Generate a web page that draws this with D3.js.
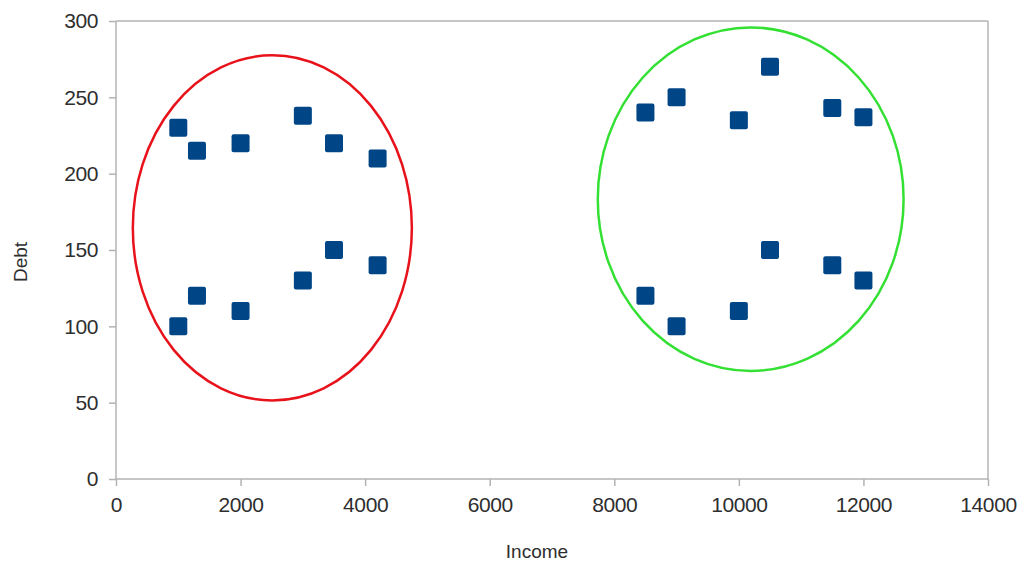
<!DOCTYPE html>
<html>
<head>
<meta charset="utf-8">
<script src="https://cdn.jsdelivr.net/npm/d3@7"></script>
<style>
  html, body { margin: 0; padding: 0; background: #fff; }
  svg { display: block; }
  text { font-family: "Liberation Sans", Arial, sans-serif; }
</style>
</head>
<body>
<svg id="chart" width="1020" height="563"></svg>
<script>
// ---- data ----
const incomeValues = [1000, 1300, 2000, 3000, 3500, 4200, 1000, 1300, 2000, 3000, 3500, 4200,
                      8500, 9000, 10000, 10500, 11500, 12000, 8500, 9000, 10000, 10500, 11500, 12000];
const debtValues   = [230, 215, 220, 238, 220, 210, 100, 120, 110, 130, 150, 140,
                      240, 250, 235, 270, 243, 237, 120, 100, 110, 150, 140, 130];
const xTicks = [0, 2000, 4000, 6000, 8000, 10000, 12000, 14000];
const yTicks = [0, 50, 100, 150, 200, 250, 300];
const clusterCx = [2510, 10190];
const clusterCy = [164.5, 183.3];
const clusterRx = [2240, 2455];
const clusterRy = [113, 112.5];
const clusterColors = ["#e8121b", "#33e033"];

// ---- layout ----
const svg = d3.select("#chart");
const mLeft = 116, mRight = 988, mTop = 21, mBottom = 479;
const x = d3.scaleLinear().domain([0, 14000]).range([mLeft, mRight]);
const y = d3.scaleLinear().domain([0, 300]).range([mBottom, mTop]);

const axisColor = "#b3b3b3";
const textColor = "#2e2e2e";

// frame (top and right)
svg.append("line").attr("x1", mLeft).attr("x2", mRight).attr("y1", mTop).attr("y2", mTop)
  .attr("stroke", axisColor).attr("stroke-width", 1.5);
svg.append("line").attr("x1", mRight).attr("x2", mRight).attr("y1", mTop).attr("y2", mBottom)
  .attr("stroke", axisColor).attr("stroke-width", 1.5);

// x axis
const xAxis = svg.append("g").attr("transform", `translate(0,${mBottom})`)
  .call(d3.axisBottom(x).tickValues(xTicks).tickSize(7).tickPadding(11).tickFormat(d3.format("d")));
// y axis
const yAxis = svg.append("g").attr("transform", `translate(${mLeft},0)`)
  .call(d3.axisLeft(y).tickValues(yTicks).tickSize(7).tickPadding(11).tickFormat(d3.format("d")));

[xAxis, yAxis].forEach(g => {
  g.select(".domain").attr("stroke", axisColor).attr("stroke-width", 1.5);
  g.selectAll(".tick line").attr("stroke", axisColor).attr("stroke-width", 1.5);
  g.selectAll(".tick text").attr("fill", textColor).style("font-size", "21px")
    .style("font-family", "'Liberation Sans', Arial, sans-serif")
    .attr("letter-spacing", "-0.4");
});
xAxis.select(".domain").attr("d", `M${mLeft},0H${mRight}`);
yAxis.select(".domain").attr("d", `M0,${mBottom}V${mTop}`);

// axis titles
svg.append("text").attr("x", 537).attr("y", 558).attr("text-anchor", "middle")
  .attr("fill", textColor).style("font-size", "19px").text("Income");
svg.append("text").attr("transform", "translate(27,262) rotate(-90)").attr("text-anchor", "middle")
  .attr("fill", textColor).style("font-size", "19px").text("Debt");

// points
const pts = incomeValues.map((v, i) => ({ income: v, debt: debtValues[i] }));
const s = 18;
svg.append("g").selectAll("rect").data(pts).join("rect")
  .attr("x", d => x(d.income) - s / 2)
  .attr("y", d => y(d.debt) - s / 2)
  .attr("width", s).attr("height", s).attr("rx", 2)
  .attr("fill", "#004586");

// cluster ellipses
const clusters = clusterCx.map((cx, i) => ({ cx, cy: clusterCy[i], rx: clusterRx[i], ry: clusterRy[i], color: clusterColors[i] }));
svg.append("g").selectAll("ellipse").data(clusters).join("ellipse")
  .attr("cx", d => x(d.cx))
  .attr("cy", d => y(d.cy))
  .attr("rx", d => x(d.rx) - x(0))
  .attr("ry", d => y(0) - y(d.ry))
  .attr("fill", "none")
  .attr("stroke", d => d.color)
  .attr("stroke-width", 2.5);
</script>
</body>
</html>
